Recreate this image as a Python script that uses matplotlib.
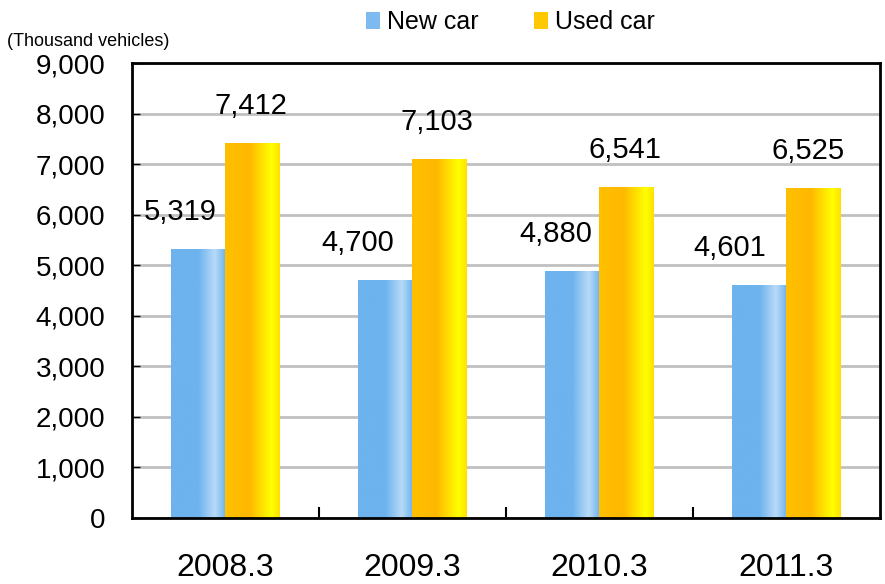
import matplotlib.pyplot as plt
import numpy as np
from matplotlib.colors import LinearSegmentedColormap
from matplotlib.patches import Patch

plt.rcParams['font.family'] = ['Liberation Sans', 'DejaVu Sans']

# data
years = ["2008.3", "2009.3", "2010.3", "2011.3"]
new_car = [5319, 4700, 4880, 4601]
used_car = [7412, 7103, 6541, 6525]

# horizontal nudges of the value labels (points), as placed in the original
new_dx = [-13, -20, -12, -21]
used_dx = [-1, -2, -1, -4]

# gradient colormaps for bars
blue_cm = LinearSegmentedColormap.from_list(
    "blue", [(0, "#6DB3EE"), (0.5, "#6DB3EE"), (0.8, "#B8DAF7"), (1.0, "#6DB3EE")])
orange_cm = LinearSegmentedColormap.from_list(
    "orange", [(0, "#FFC000"), (0.45, "#FFB800"), (0.85, "#FFFF00"), (1.0, "#FFE000")])

fig = plt.figure(figsize=(8.85, 5.84), dpi=100)
ax = fig.add_axes([0.149, 0.113, 0.845, 0.779])

x = np.arange(len(years))
w = 0.29
grad = np.linspace(0, 1, 256).reshape(1, -1)


def gradient_bars(xs, vals, cmap):
    bars = ax.bar(xs, vals, w, color="none", edgecolor="none", zorder=3)
    for b in bars:
        x0, y0 = b.get_x(), b.get_y()
        im = ax.imshow(grad, cmap=cmap, aspect="auto", zorder=3,
                       extent=[x0, x0 + b.get_width(), y0, y0 + b.get_height()])
        im.set_clip_path(b)
    return bars


b1 = gradient_bars(x - w / 2, new_car, blue_cm)
b2 = gradient_bars(x + w / 2, used_car, orange_cm)

for bars, vals, dxs in ((b1, new_car, new_dx), (b2, used_car, used_dx)):
    for b, v, dx in zip(bars, vals, dxs):
        ax.annotate(f"{v:,}", (b.get_x() + b.get_width() / 2, v),
                    xytext=(dx, 21), textcoords="offset points",
                    ha="center", va="baseline", fontsize=21, zorder=5)

ax.set_xlim(-0.5, len(years) - 0.5)
ax.set_ylim(0, 9000)
ax.set_yticks(np.arange(0, 9001, 1000))
ax.yaxis.set_major_formatter(plt.FuncFormatter(lambda v, p: f"{int(v):,}"))
ax.tick_params(axis="y", direction="in", length=6, width=1, labelsize=20, pad=19)
ax.grid(axis="y", color="#C0C0C0", linewidth=2, zorder=0)

ax.set_xticks(x)
ax.set_xticklabels(years, fontsize=23)
ax.tick_params(axis="x", length=0, pad=25)
ax.set_xticks(np.arange(0.5, len(years) - 1, 1), minor=True)
ax.tick_params(axis="x", which="minor", direction="in", length=8, width=1.5)

for s in ax.spines.values():
    s.set_linewidth(2)
    s.set_zorder(4)

fig.text(0.008, 0.929, "(Thousand vehicles)", fontsize=13, ha="left", va="center")

handles = [Patch(facecolor="#7DBAF0", label="New car"),
           Patch(facecolor="#FFC800", label="Used car")]
fig.legend(handles=handles, loc="center", bbox_to_anchor=(0.577, 0.962), ncol=2,
           frameon=False, fontsize=18, handlelength=0.55, handleheight=0.7,
           handletextpad=0.3, columnspacing=2.2)

fig.savefig("out.png", dpi=100)
